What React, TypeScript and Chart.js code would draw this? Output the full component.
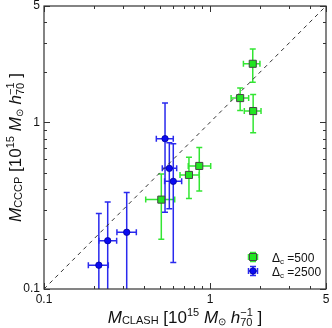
import React, { useEffect, useRef } from "react";
import { Chart, registerables } from "chart.js";
Chart.register(...registerables);

// ---- data (units of 10^15 Msun/h70) ----
const greenX = [1.81, 1.52, 1.82, 0.862, 0.747, 0.509];
const greenY = [2.25, 1.4, 1.17, 0.548, 0.484, 0.344];
const greenXLo = [1.59, 1.34, 1.61, 0.74, 0.66, 0.41];
const greenXHi = [2.0, 1.71, 2.03, 1.01, 0.862, 0.613];
const greenYLo = [1.74, 1.18, 0.867, 0.388, 0.349, 0.199];
const greenYHi = [2.76, 1.61, 1.47, 0.708, 0.617, 0.49];

const blueX = [0.536, 0.569, 0.601, 0.315, 0.242, 0.214];
const blueY = [0.799, 0.53, 0.443, 0.219, 0.195, 0.139];
const blueXLo = [0.475, 0.516, 0.533, 0.275, 0.214, 0.185];
const blueXHi = [0.601, 0.63, 0.675, 0.36, 0.274, 0.244];
const blueYLo = [0.289, 0.303, 0.144, 0.05, 0.05, 0.05];
const blueYHi = [1.31, 0.756, 0.745, 0.379, 0.333, 0.284];

const axisMin = 0.1;
const axisMax = 5;
const diagonal = [axisMin, axisMax];
const tickValues = [0.1, 0.2, 0.3, 0.4, 0.5, 0.6, 0.7, 0.8, 0.9, 1, 2, 3, 4, 5];
const majorTicks = [0.1, 1, 5];
const tickLabels = ["0.1", "1", "5"];
const legendLabels = ["500", "2500"];

const FAMILY = '"Liberation Sans", Arial, sans-serif';
const GREEN = "#22e622";
const GREEN_BAR = "#33e633";
const BLUE = "#0a0af0";
const BLUE_BAR = "#2a2aee";
const TEXT = "#111";

type Seg = { t?: string; size: number; italic?: boolean; dy?: number; sup?: string; sub?: string };

const fontOf = (s: Seg) => `${s.italic ? "italic " : ""}${s.size}px ${FAMILY}`;

function richWidth(ctx: CanvasRenderingContext2D, segs: Seg[]) {
  let w = 0;
  for (const s of segs) {
    ctx.font = fontOf(s);
    if (s.sup !== undefined) {
      w += Math.max(ctx.measureText(s.sup).width, ctx.measureText(s.sub || "").width);
    } else {
      w += ctx.measureText(s.t || "").width;
    }
  }
  return w;
}

function drawRich(ctx: CanvasRenderingContext2D, segs: Seg[], x: number, y: number, align: "center" | "left") {
  const w = richWidth(ctx, segs);
  let cx = align === "center" ? x - w / 2 : x;
  ctx.textAlign = "left";
  ctx.textBaseline = "alphabetic";
  ctx.fillStyle = TEXT;
  for (const s of segs) {
    ctx.font = fontOf(s);
    if (s.sup !== undefined) {
      ctx.fillText(s.sup, cx, y - 7);
      ctx.fillText(s.sub || "", cx, y + 3);
      cx += Math.max(ctx.measureText(s.sup).width, ctx.measureText(s.sub || "").width);
    } else {
      ctx.fillText(s.t || "", cx, y + (s.dy || 0));
      cx += ctx.measureText(s.t || "").width;
    }
  }
}

const unitSegs = (): Seg[] => [
  { t: " [10", size: 17 },
  { t: "15", size: 11, dy: -7 },
  { t: " M", size: 17, italic: true },
  { t: "⊙", size: 10, dy: 2 },
  { t: " h", size: 17, italic: true },
  { sup: "−1", sub: "70", size: 11 },
  { t: " ]", size: 17 },
];
const xTitle: Seg[] = [{ t: "M", size: 17, italic: true }, { t: "CLASH", size: 11, dy: 1 }, ...unitSegs()];
const yTitle: Seg[] = [{ t: "M", size: 17, italic: true }, { t: "CCCP", size: 11, dy: 1 }, ...unitSegs()];

function errBars(ctx: CanvasRenderingContext2D, px: number, py: number, xl: number, xr: number, yt: number, yb: number, color: string) {
  const cap = 3;
  ctx.strokeStyle = color;
  ctx.lineWidth = 1.5;
  ctx.beginPath();
  ctx.moveTo(xl, py); ctx.lineTo(xr, py);
  ctx.moveTo(xl, py - cap); ctx.lineTo(xl, py + cap);
  ctx.moveTo(xr, py - cap); ctx.lineTo(xr, py + cap);
  ctx.moveTo(px, yt); ctx.lineTo(px, yb);
  ctx.moveTo(px - cap, yt); ctx.lineTo(px + cap, yt);
  ctx.moveTo(px - cap, yb); ctx.lineTo(px + cap, yb);
  ctx.stroke();
}

const errorBarPlugin = {
  id: "errbars",
  beforeDatasetsDraw(chart: any) {
    const { ctx, chartArea: a } = chart;
    const xs = chart.scales.x;
    const ys = chart.scales.y;
    ctx.save();
    ctx.beginPath();
    ctx.rect(a.left, a.top, a.right - a.left, a.bottom - a.top);
    ctx.clip();
    const sets = [
      { x: greenX, y: greenY, xl: greenXLo, xh: greenXHi, yl: greenYLo, yh: greenYHi, c: GREEN_BAR },
      { x: blueX, y: blueY, xl: blueXLo, xh: blueXHi, yl: blueYLo, yh: blueYHi, c: BLUE_BAR },
    ];
    for (const s of sets) {
      for (let i = 0; i < s.x.length; i++) {
        errBars(
          ctx,
          xs.getPixelForValue(s.x[i]),
          ys.getPixelForValue(s.y[i]),
          xs.getPixelForValue(s.xl[i]),
          xs.getPixelForValue(s.xh[i]),
          ys.getPixelForValue(s.yh[i]),
          ys.getPixelForValue(s.yl[i]),
          s.c
        );
      }
    }
    ctx.restore();
  },
};

const framePlugin = {
  id: "frame",
  afterDraw(chart: any) {
    const { ctx, chartArea: a } = chart;
    const xs = chart.scales.x;
    const ys = chart.scales.y;
    ctx.save();
    ctx.strokeStyle = "#333";
    ctx.lineWidth = 1.2;
    ctx.strokeRect(a.left, a.top, a.right - a.left, a.bottom - a.top);
    ctx.lineWidth = 1;
    ctx.beginPath();
    for (const v of tickValues) {
      const L = majorTicks.includes(v) ? 6 : 3;
      const px = Math.round(xs.getPixelForValue(v)) + 0.5;
      ctx.moveTo(px, a.bottom); ctx.lineTo(px, a.bottom - L);
      ctx.moveTo(px, a.top); ctx.lineTo(px, a.top + L);
      const py = Math.round(ys.getPixelForValue(v)) + 0.5;
      ctx.moveTo(a.left, py); ctx.lineTo(a.left + L, py);
      ctx.moveTo(a.right, py); ctx.lineTo(a.right - L, py);
    }
    ctx.stroke();

    // axis titles
    drawRich(ctx, xTitle, (a.left + a.right) / 2, 323, "center");
    ctx.save();
    ctx.translate(21, (a.top + a.bottom) / 2);
    ctx.rotate(-Math.PI / 2);
    drawRich(ctx, yTitle, 0, 0, "center");
    ctx.restore();

    // legend
    const entries = [
      { label: legendLabels[0], color: GREEN, bar: GREEN_BAR, style: "rect", y: 257 },
      { label: legendLabels[1], color: BLUE, bar: BLUE_BAR, style: "circle", y: 271 },
    ];
    for (const e of entries) {
      const mx = 253;
      errBars(ctx, mx, e.y, mx - 4.5, mx + 4.5, e.y - 4.5, e.y + 4.5, e.bar);
      ctx.beginPath();
      if (e.style === "rect") {
        ctx.rect(mx - 3.5, e.y - 3.5, 7, 7);
        ctx.fillStyle = e.color;
        ctx.fill();
        ctx.strokeStyle = "#444";
        ctx.lineWidth = 1;
        ctx.stroke();
      } else {
        ctx.arc(mx, e.y, 3.2, 0, Math.PI * 2);
        ctx.fillStyle = e.color;
        ctx.fill();
        ctx.strokeStyle = "#0000a0";
        ctx.lineWidth = 0.8;
        ctx.stroke();
      }
      drawRich(
        ctx,
        [
          { t: "Δ", size: 12 },
          { t: "c", size: 8, dy: 2 },
          { t: " =" + e.label, size: 12 },
        ],
        272,
        e.y + 4.5,
        "left"
      );
    }
    ctx.restore();
  },
};

export default function App() {
  const ref = useRef<HTMLCanvasElement | null>(null);
  useEffect(() => {
    if (!ref.current) return;
    const toPts = (xs: number[], ys: number[]) => xs.map((x, i) => ({ x, y: ys[i] }));
    const scaleCommon = (isY: boolean) => ({
      type: "logarithmic" as const,
      min: axisMin,
      max: axisMax,
      grid: { display: false, drawTicks: false },
      border: { display: false },
      afterBuildTicks: (scale: any) => {
        scale.ticks = tickValues.map((v) => ({ value: v, major: majorTicks.includes(v) }));
      },
      afterFit: (scale: any) => {
        if (isY) {
          scale.width = 44;
          scale.paddingTop = 0;
          scale.paddingBottom = 0;
        } else {
          scale.height = 39;
          scale.paddingLeft = 0;
          scale.paddingRight = 0;
        }
      },
      ticks: {
        autoSkip: false,
        maxRotation: 0,
        minRotation: 0,
        padding: isY ? 4 : 3,
        color: TEXT,
        font: { family: FAMILY, size: 12 },
        callback: (v: any) => {
          const idx = majorTicks.findIndex((m) => Math.abs(m - Number(v)) < 1e-9);
          return idx >= 0 ? tickLabels[idx] : "";
        },
      },
    });
    const chart = new Chart(ref.current, {
      type: "scatter",
      data: {
        datasets: [
          {
            label: "Δc=500",
            data: toPts(greenX, greenY),
            pointStyle: "rect",
            pointRadius: 5,
            backgroundColor: GREEN,
            borderColor: "#444",
            borderWidth: 1,
          },
          {
            label: "Δc=2500",
            data: toPts(blueX, blueY),
            pointStyle: "circle",
            pointRadius: 3.2,
            backgroundColor: BLUE,
            borderColor: "#0000a0",
            borderWidth: 0.8,
          },
          {
            type: "line",
            label: "1:1",
            data: toPts(diagonal, diagonal),
            borderColor: "#333",
            borderWidth: 1,
            borderDash: [4, 4],
            pointRadius: 0,
            fill: false,
          } as any,
        ],
      },
      options: {
        responsive: false,
        animation: false,
        devicePixelRatio: 1,
        layout: { padding: { left: 0, top: 5, right: 6, bottom: 0 } },
        plugins: { legend: { display: false }, tooltip: { enabled: false } },
        scales: { x: scaleCommon(false), y: scaleCommon(true) } as any,
      },
      plugins: [errorBarPlugin, framePlugin],
    });
    return () => chart.destroy();
  }, []);
  return (
    <div style={{ position: "fixed", left: 0, top: 0, width: 332, height: 328, background: "#fff" }}>
      <canvas ref={ref} width={332} height={328} style={{ width: 332, height: 328, display: "block" }} />
    </div>
  );
}
